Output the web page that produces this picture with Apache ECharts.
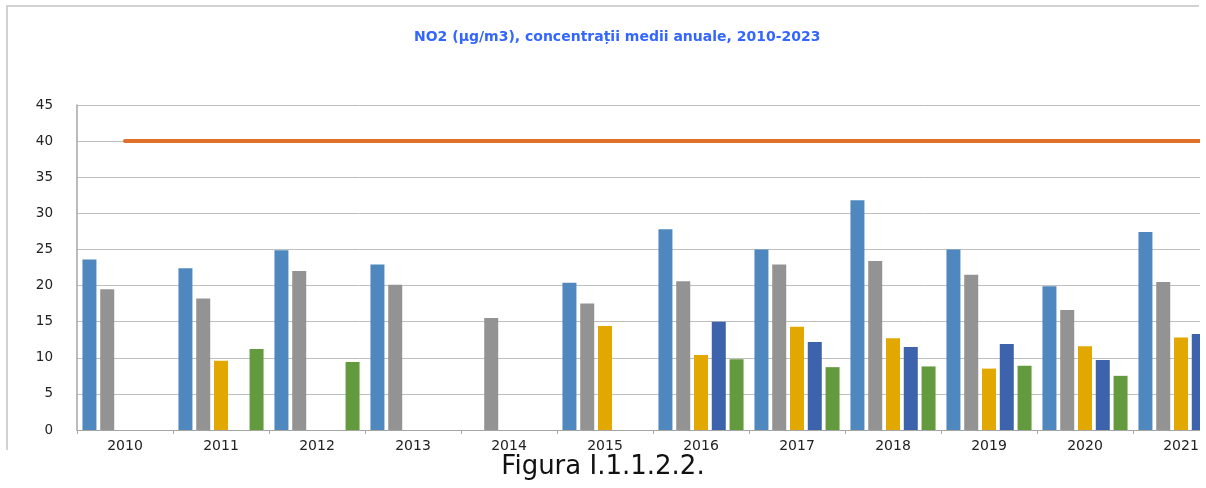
<!DOCTYPE html>
<html>
<head>
<meta charset="utf-8">
<script src="https://cdn.jsdelivr.net/npm/echarts@6/dist/echarts.min.js"></script>
<style>
  html, body { margin: 0; padding: 0; background: #fff; }
  #charts { width: 1206px; height: 488px; }
</style>
</head>
<body>
<div id="charts"></div>
<script>
"use strict";

// ani 2010-2023 (ultimele categorii ies din imagine)
var years = ['2010', '2011', '2012', '2013', '2014', '2015', '2016', '2017', '2018', '2019', '2020', '2021', '2022', '2023'];
var seria1 = [23.6, 22.4, 24.9, 22.9, null, 20.4, 27.8, 25.0, 31.8, 25.0, 19.9, 27.4, null, null];
var seria2 = [19.5, 18.2, 22.0, 20.1, 15.5, 17.5, 20.6, 22.9, 23.4, 21.5, 16.6, 20.5, null, null];
var seria3 = [null, 9.6, null, null, null, 14.4, 10.4, 14.3, 12.7, 8.5, 11.6, 12.8, null, null];
var seria4 = [null, null, null, null, null, null, 15.0, 12.2, 11.5, 11.9, 9.7, 13.3, null, null];
var seria5 = [null, 11.2, 9.4, null, null, null, 9.8, 8.7, 8.8, 8.9, 7.5, null, null, null];
var limita = [40, 40, 40, 40, 40, 40, 40, 40, 40, 40, 40, 40, 40, 40];
var yTicks = { min: 0, max: 45, interval: 5 };

var dom = document.getElementById("charts");
var myChart = echarts.init(dom);

function barSeries(name, data, color) {
    return {
        name: name,
        type: 'bar',
        data: data,
        barWidth: 14,
        barGap: '27%',
        itemStyle: { color: color },
        z: 2
    };
}

var option = {
    animation: false,
    textStyle: { fontFamily: 'DejaVu Sans' },
    title: {
        text: 'NO2 (µg/m3), concentrații medii anuale, 2010-2023',
        left: 409,
        top: 25,
        textStyle: {
            color: '#3366ff',
            fontSize: 14,
            fontWeight: 'bold',
            fontFamily: 'DejaVu Sans'
        }
    },
    grid: {
        left: 77,
        top: 105,
        width: 96 * years.length,
        height: 325,
        outerBoundsMode: 'none'
    },
    xAxis: {
        type: 'category',
        data: years,
        axisLine: { lineStyle: { color: '#a6a6a6', width: 1 } },
        axisTick: { show: true, length: 4, interval: 0, lineStyle: { color: '#a6a6a6' } },
        axisLabel: { color: '#222', fontSize: 14, margin: 9, interval: 0 },
        splitLine: { show: false }
    },
    yAxis: {
        type: 'value',
        min: yTicks.min,
        max: yTicks.max,
        interval: yTicks.interval,
        axisLine: { show: true, lineStyle: { color: '#a6a6a6', width: 1.5 } },
        axisTick: { show: false },
        axisLabel: { color: '#222', fontSize: 13.5, margin: 24 },
        splitLine: { lineStyle: { color: '#bfbfbf', width: 1 } }
    },
    series: [
        barSeries('Seria 1', seria1, '#4f88be'),
        barSeries('Seria 2', seria2, '#939393'),
        barSeries('Seria 3', seria3, '#e3a800'),
        barSeries('Seria 4', seria4, '#3d63ad'),
        barSeries('Seria 5', seria5, '#629a3d'),
        {
            name: 'Valoare limită',
            type: 'line',
            data: limita,
            symbol: 'none',
            lineStyle: { color: '#df712b', width: 4, cap: 'round' },
            z: 3
        }
    ],
    graphic: [
        { type: 'rect', shape: { x: 1200, y: 0, width: 20, height: 488 }, style: { fill: '#ffffff' }, z: 100 },
        { type: 'polyline', shape: { points: [[7, 450], [7, 6], [1199, 6]] }, style: { stroke: '#c4c4c4', lineWidth: 1.5, fill: null }, z: 100 },
        {
            type: 'text',
            left: 'center',
            top: 454,
            style: {
                text: 'Figura I.1.1.2.2.',
                fontSize: 26,
                fontFamily: 'DejaVu Sans',
                fill: '#111'
            },
            z: 100
        }
    ]
};

if (option && typeof option === "object") {
    myChart.setOption(option, true);
}
</script>
</body>
</html>
